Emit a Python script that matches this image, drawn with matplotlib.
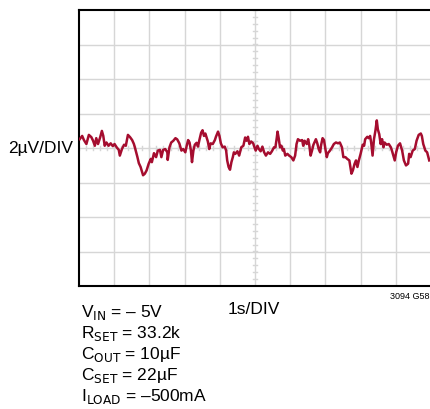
import numpy as np
import matplotlib
matplotlib.use("Agg")
import matplotlib.pyplot as plt

plt.rcParams['font.family'] = ['Liberation Sans Narrow', 'Liberation Sans', 'DejaVu Sans']
plt.rcParams['mathtext.fontset'] = 'custom'
plt.rcParams['mathtext.rm'] = 'Liberation Sans Narrow'
plt.rcParams['mathtext.it'] = 'Liberation Sans Narrow'

# output noise trace, time in seconds
time_s = [
    # 0 .. 2.5 s
    0.02, 0.09, 0.14, 0.21, 0.28, 0.35, 0.40, 0.45, 0.49, 0.54, 0.60, 0.65, 0.69, 0.73,
    0.78, 0.84, 0.90, 0.96, 1.01, 1.07, 1.13, 1.16, 1.22, 1.28, 1.33, 1.39, 1.45, 1.51,
    1.56, 1.60, 1.66, 1.70, 1.75, 1.82, 1.87, 1.92, 1.98, 2.04, 2.07, 2.13, 2.19, 2.24,
    2.30, 2.34, 2.39, 2.45, 2.51,
    # 2.5 .. 5 s
    2.52, 2.57, 2.62, 2.68, 2.74, 2.79, 2.85, 2.91, 2.96, 3.02, 3.06, 3.10, 3.14, 3.18,
    3.21, 3.25, 3.29, 3.34, 3.38, 3.42, 3.47, 3.51, 3.55, 3.59, 3.63, 3.66, 3.70, 3.74,
    3.80, 3.86, 3.89, 3.95, 3.99, 4.03, 4.08, 4.14, 4.18, 4.21, 4.25, 4.29, 4.33, 4.37,
    4.40, 4.44, 4.50, 4.55, 4.61, 4.67, 4.72, 4.76, 4.80, 4.84, 4.89, 4.95,
    # 5 .. 7.5 s
    4.97, 5.02, 5.07, 5.11, 5.16, 5.21, 5.26, 5.31, 5.37, 5.43, 5.48, 5.54, 5.58, 5.62,
    5.64, 5.67, 5.71, 5.75, 5.79, 5.82, 5.86, 5.92, 5.97, 6.03, 6.09, 6.14, 6.18, 6.22,
    6.28, 6.34, 6.37, 6.41, 6.47, 6.51, 6.54, 6.58, 6.62, 6.66, 6.70, 6.73, 6.77, 6.81,
    6.85, 6.88, 6.92, 6.96, 7.00, 7.04, 7.07, 7.13, 7.19, 7.24, 7.30, 7.36, 7.41, 7.47,
    # 7.5 .. 10 s
    7.51, 7.57, 7.62, 7.68, 7.74, 7.78, 7.83, 7.87, 7.91, 7.95, 8.00, 8.06, 8.10, 8.13,
    8.19, 8.23, 8.27, 8.30, 8.34, 8.38, 8.42, 8.46, 8.49, 8.53, 8.57, 8.61, 8.65, 8.68,
    8.74, 8.80, 8.86, 8.89, 8.93, 8.97, 9.01, 9.06, 9.12, 9.18, 9.23, 9.29, 9.35, 9.38,
    9.42, 9.48, 9.54, 9.59, 9.65, 9.71, 9.74, 9.78, 9.84, 9.89, 9.95,
]

# output noise amplitude, uV
noise_uv = [
    0.51, 0.70, 0.46, 0.23, 0.76, 0.63, 0.42, 0.13, 0.57, 0.23, 0.61, 0.99, 0.70, 0.13,
    0.32, 0.13, 0.27, 0.11, 0.23, 0.04, -0.11, -0.44, -0.06, 0.19, 0.13, 0.76, 0.63, 0.46,
    0.23, -0.06, -0.53, -0.88, -1.10, -1.58, -1.49, -1.30, -0.91, -0.63, -0.82, -0.30, -0.53, -0.15,
    -0.11, -0.53, -0.11, -0.06, -0.25,

    -0.69, 0.04, 0.32, 0.42, 0.57, 0.50, 0.27, -0.15, -0.06, -0.25, 0.13, 0.46, 0.32, -0.15,
    -0.82, -0.15, 0.19, 0.30, 0.08, 0.46, 0.89, 1.03, 0.70, 0.84, 0.57, 0.38, -0.06, 0.27,
    0.23, 0.46, 0.65, 0.95, 0.70, 0.27, 0.04, 0.08, -0.15, -0.72, -1.10, -1.26, -0.82, -0.53,
    -0.25, -0.34, -0.19, -0.44, 0.04, 0.13, 0.61, 0.42, 0.65, 0.23, 0.38, 0.27,

    0.13, -0.15, 0.13, -0.06, -0.19, 0.08, -0.25, -0.44, -0.25, -0.34, -0.19, 0.04, 0.04, 0.61,
    0.95, 0.61, 0.04, 0.13, -0.15, -0.06, -0.44, -0.34, -0.44, -0.53, -0.72, -0.44, 0.23, 0.51,
    0.42, 0.46, 0.13, 0.42, 0.23, 0.51, 0.19, -0.44, -0.15, 0.19, 0.38, 0.51, 0.27, -0.06,
    -0.25, 0.19, 0.57, 0.46, -0.06, -0.53, -0.30, -0.15, 0.04, 0.23, 0.32, 0.27, 0.32, 0.04,

    -0.53, -0.53, -0.63, -0.72, -1.49, -1.30, -0.91, -0.72, -1.10, -0.72, -0.34, 0.19, 0.13, 0.51,
    0.65, 0.57, 0.70, 0.32, -0.44, 0.51, 0.99, 1.60, 1.08, 0.80, 0.23, 0.51, 0.04, 0.32,
    0.19, 0.23, 0.04, -0.15, -0.44, -0.72, -0.25, 0.13, 0.27, -0.15, -0.72, -1.01, -0.91, -0.34,
    -0.53, -0.15, -0.06, 0.42, 0.76, 0.84, 0.70, 0.23, -0.15, -0.25, -0.72,
]

conditions = [r"V$_{\mathrm{IN}}$ = – 5V",
              r"R$_{\mathrm{SET}}$ = 33.2k",
              r"C$_{\mathrm{OUT}}$ = 10µF",
              r"C$_{\mathrm{SET}}$ = 22µF",
              r"I$_{\mathrm{LOAD}}$ = –500mA"]

fig = plt.figure(figsize=(4.3, 4.1), dpi=100)
ax = fig.add_axes([79/430, 1 - 287/410, 352/430, 276/410])
ax.set_xlim(0, 10)
ax.set_ylim(-8, 8)

grid_c = "#d6d6d6"
for gx in range(1, 10):
    ax.axvline(gx, color=grid_c, lw=1.0, zorder=1)
for gy in range(-6, 8, 2):
    ax.axhline(gy, color=grid_c, lw=1.0, zorder=1)

# minor ticks on the centre cross
for mx in np.arange(0, 10.01, 0.2):
    ax.plot([mx, mx], [-0.14, 0.14], color=grid_c, lw=1.0, zorder=1)
for my in np.arange(-8, 8.01, 0.4):
    ax.plot([4.93, 5.07], [my, my], color=grid_c, lw=1.0, zorder=1)

ax.plot(time_s, noise_uv, color="#a50d2f", lw=1.8, zorder=3)

ax.set_xticks([])
ax.set_yticks([])
for side in ["left", "top", "bottom"]:
    ax.spines[side].set_linewidth(1.5)
    ax.spines[side].set_color("black")
ax.spines["right"].set_visible(False)

fig.text(41/430, 1 - 149/410, "2µV/DIV", fontsize=12.5, ha="center", va="center")
fig.text(254/430, 1 - 310/410, "1s/DIV", fontsize=12.5, ha="center", va="center")
fig.text(429/430, 1 - 297/410, "3094 G58", fontsize=6.5, ha="right", va="center")

for i, line in enumerate(conditions):
    fig.text(81/430, 1 - (313 + 20.8 * i)/410, line, fontsize=12.5, ha="left", va="center")

fig.savefig("out.png", dpi=100)
